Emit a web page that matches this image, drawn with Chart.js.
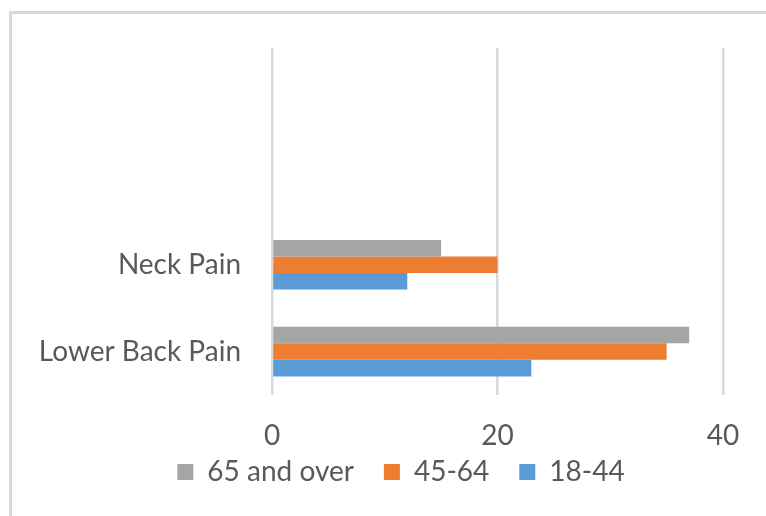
<!DOCTYPE html>
<html>
<head>
<meta charset="utf-8">
<script src="https://cdn.jsdelivr.net/npm/chart.js@4/dist/chart.umd.min.js"></script>
<style>
  html, body { margin: 0; padding: 0; background: #ffffff; overflow: hidden; }
  #frame {
    position: absolute; left: 9px; top: 11px;
    width: 820px; height: 600px;
    border: 3px solid #d9d9d9; box-sizing: border-box;
  }
  #chart { position: absolute; left: 0; top: 0; }
</style>
</head>
<body>
<div id="frame"></div>
<canvas id="chart" width="766" height="516"></canvas>
<script>
// Categories listed top to bottom; the two upper rows are empty
const categories = ["", "", "Neck Pain", "Lower Back Pain"];
const seriesNames = ["65 and over", "45-64", "18-44"];
const age65Plus = [null, null, 15, 37];
const age45to64 = [null, null, 20, 35];
const age18to44 = [null, null, 12, 23];
const xTicks = [0, 20, 40];

const colors = ["#a5a5a5", "#ed7d31", "#5b9bd5"];
const textColor = "#595959";
const fontFamily = "Lato, 'Liberation Sans', sans-serif";

const seriesValues = [age65Plus, age45to64, age18to44];

// Places the legend box: centred on a given x, with its top at a given y
const legendPlacement = {
  id: "legendPlacement",
  afterLayout(chart, args, opts) {
    const lg = chart.legend;
    if (!lg) return;
    const dx = opts.centerX - (lg.left + lg.right) / 2;
    const dy = opts.top - lg.top;
    lg.left += dx; lg.right += dx;
    lg.top += dy; lg.bottom += dy;
  }
};

new Chart(document.getElementById("chart"), {
  type: "bar",
  data: {
    labels: categories,
    datasets: seriesNames.map((name, i) => ({
      label: name,
      data: seriesValues[i],
      backgroundColor: colors[i],
      borderWidth: 0,
      categoryPercentage: 0.5714,
      barPercentage: 1.0
    }))
  },
  plugins: [legendPlacement],
  options: {
    indexAxis: "y",
    responsive: false,
    animation: false,
    devicePixelRatio: 1,
    layout: { padding: { left: 0, right: 43, top: 46, bottom: 0 } },
    scales: {
      x: {
        min: 0, max: 40,
        afterBuildTicks: (scale) => { scale.ticks = xTicks.map(v => ({ value: v })); },
        afterFit: (scale) => { scale.height = 53; },
        grid: { color: "#d9d9d9", lineWidth: 2.5, drawTicks: false },
        border: { display: false },
        ticks: { color: textColor, font: { family: fontFamily, size: 28 }, padding: 24 }
      },
      y: {
        afterFit: (scale) => { scale.width = 272; },
        grid: { display: false, drawTicks: false },
        border: { display: false },
        ticks: { color: textColor, font: { family: fontFamily, size: 28 }, padding: 31 }
      }
    },
    plugins: {
      legend: {
        position: "bottom",
        labels: {
          color: textColor,
          font: { family: fontFamily, size: 28 },
          boxWidth: 16, boxHeight: 16, padding: 30
        }
      },
      legendPlacement: { centerX: 401, top: 428 },
      tooltip: { enabled: false }
    }
  }
});
</script>
</body>
</html>
